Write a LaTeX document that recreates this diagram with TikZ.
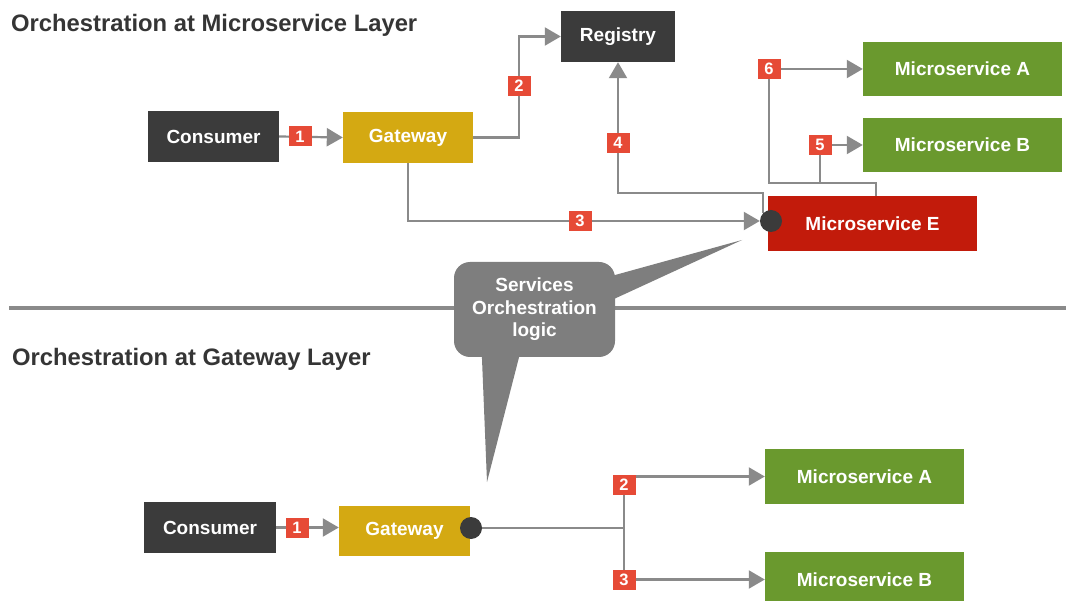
\documentclass[tikz,border=0pt]{standalone}
\usepackage{fontspec}
\setmainfont{Liberation Sans}
\usetikzlibrary{arrows.meta,calc,backgrounds}

\definecolor{boxdark}{HTML}{3B3B3B}
\definecolor{gold}{HTML}{D4A912}
\definecolor{leaf}{HTML}{6A992E}
\definecolor{alarm}{HTML}{C21B0B}
\definecolor{tag}{HTML}{E64A36}
\definecolor{wire}{HTML}{8A8A8A}
\definecolor{bubblegray}{HTML}{7E7E7E}
\definecolor{headtext}{HTML}{353535}

\tikzset{
  title/.style={font=\fontsize{23.8}{28}\selectfont\bfseries, text=headtext, inner sep=0pt},
  svc/.style={draw=none, text=white, inner sep=0pt,
              font=\fontsize{19}{22}\selectfont\bfseries},
  darkbox/.style={svc, fill=boxdark},
  gatebox/.style={svc, fill=gold},
  leafbox/.style={svc, fill=leaf, minimum width=199pt},
  hotbox/.style={svc, fill=alarm},
  tagbox/.style={fill=tag, text=white, inner sep=0pt,
                 minimum width=23pt, minimum height=20pt,
                 font=\fontsize{16.5}{16.5}\selectfont\bfseries},
  hub/.style={circle, fill=boxdark, minimum size=22pt, inner sep=0pt},
  wireline/.style={draw=wire, line width=2.2pt},
  flow/.style={wireline, -{Triangle[length=16pt,width=18pt]}},
  divider/.style={draw=wire, line width=3.8pt},
  bubble/.style={fill=bubblegray, rounded corners=16pt, text=white, align=center,
                 minimum width=161pt, minimum height=95pt, inner sep=0pt,
                 font=\fontsize{19}{22.5}\selectfont\bfseries},
}

\begin{document}
\begin{tikzpicture}[x=1pt,y=-1pt]
  \path[use as bounding box] (0,0) rectangle (1068,601);
  \clip (0,0) rectangle (1068,601);

  % section headings
  \node[title, anchor=base west] (head1) at (11,32) {Orchestration at Microservice Layer};
  \node[title, anchor=base west] (head2) at (12,366) {Orchestration at Gateway Layer};

  % separator between the two layers
  \draw[divider] (9,308) -- (1066,308);

  % ---------- orchestration at the microservice layer ----------
  \node[darkbox, minimum width=131pt, minimum height=51pt] (cons1) at (213.5,136.5) {Consumer};
  \node[gatebox, minimum width=130pt, minimum height=51pt] (gw1) at (408,137.5) {Gateway};
  \node[darkbox, minimum width=114pt, minimum height=51pt] (reg) at (618,36.5) {Registry};
  \node[leafbox, minimum height=54pt] (msA1) at (962.5,69) {Microservice A};
  \node[leafbox, minimum height=54pt] (msB1) at (962.5,145) {Microservice B};
  \node[hotbox, minimum width=209pt, minimum height=55pt] (msE) at (872.5,223.5) {Microservice E};
  \node[hub] (dotE) at (771,221) {};

  \node[tagbox] (t1) at (300,136.5) {1};
  \node[tagbox] (t2) at (519,86) {2};
  \node[tagbox] (t3) at (580,221) {3};
  \node[tagbox] (t4) at (618,143) {4};
  \node[tagbox] (t5) at (820,145) {5};
  \node[tagbox] (t6) at (769,69) {6};

  \coordinate (jE) at ($(msE.north)+(3.5,-13)$);

  \begin{scope}[on background layer]
    \draw[flow] (cons1.east) -- (gw1.west);
    \draw[flow] (gw1.east) -| (t2.center) |- (reg.west);
    \draw[flow] (gw1.south) |- (dotE.west);
    \draw[flow] (dotE.north west) -- ++(0,-20) -| (reg.south);
    \draw[flow] ($(msE.north)+(3.5,0)$) -- (jE) -| (t6.center) -- (msA1.west);
    \draw[flow] (t5.center |- jE) -- (t5.center) -- (msB1.west);
  \end{scope}

  % ---------- orchestration at the gateway layer ----------
  \node[darkbox, minimum width=132pt, minimum height=51pt] (cons2) at (210,527.5) {Consumer};
  \node[gatebox, minimum width=131pt, minimum height=50pt] (gw2) at (404.5,531) {Gateway};
  \node[hub] (dot2) at (471,528) {};
  \node[leafbox, minimum height=55pt] (msA2) at (864.5,476.5) {Microservice A};
  \node[leafbox, minimum height=55pt] (msB2) at (864.5,579.5) {Microservice B};

  \node[tagbox] (b1) at (297,528) {1};
  \node[tagbox] (b2) at (624,485) {2};
  \node[tagbox] (b3) at (624,580) {3};

  \begin{scope}[on background layer]
    \draw[flow] (cons2.east) -- (cons2.east -| gw2.west);
    \draw[wireline] (dot2.east) -- (dot2.east -| b2.center);
    \draw[wireline] (b2.center) -- (b3.center);
    \draw[flow] (b2.center |- msA2.west) -- (msA2.west);
    \draw[flow] (b3.center |- msB2.west) -- (msB2.west);
  \end{scope}

  % callout naming where the orchestration logic lives
  \coordinate (tipUp) at (742,240);
  \coordinate (tipDown) at (487,482);
  \node[bubble] (logic) at (534.5,309.5) {Services\\Orchestration\\logic};
  \fill[bubblegray] ($(logic.south west)+(28,-3)$) -- (tipDown) -- ($(logic.south west)+(66,-3)$) -- cycle;
  \fill[bubblegray] ($(logic.north east)+(-3,14)$) -- (tipUp) -- ($(logic.north east)+(-3,38)$) -- cycle;
\end{tikzpicture}
\end{document}
